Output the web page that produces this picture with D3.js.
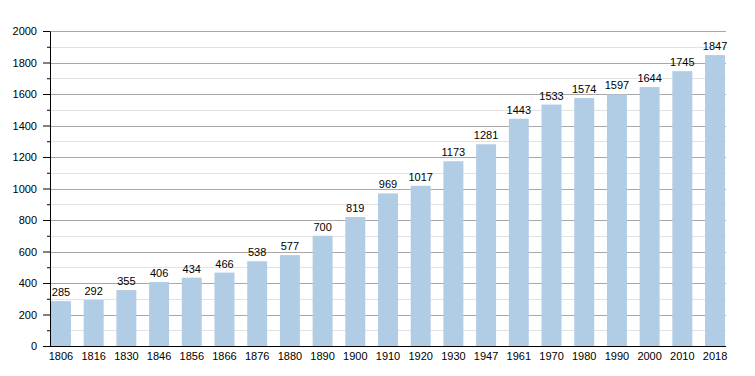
<!DOCTYPE html>
<html>
<head>
<meta charset="utf-8">
<style>
  body { margin: 0; background: #fff; }
  text { font-family: "Liberation Sans", Arial, sans-serif; font-size: 11px; fill: #000; }
</style>
<script src="https://cdn.jsdelivr.net/npm/d3@7"></script>
</head>
<body>
<script>
// data
var years = ["1806","1816","1830","1846","1856","1866","1876","1880","1890","1900","1910","1920","1930","1947","1961","1970","1980","1990","2000","2010","2018"];
var population = [285,292,355,406,434,466,538,577,700,819,969,1017,1173,1281,1443,1533,1574,1597,1644,1745,1847];
var yTicks = [0,200,400,600,800,1000,1200,1400,1600,1800,2000];
var yMinor = [100,300,500,700,900,1100,1300,1500,1700,1900];

var W = 755, H = 376;
// plot box (window.top is reserved, so use prefixed names)
var pLeft = 50, pRight = 726, pTop = 31, pBottom = 346;

var svg = d3.select("body").append("svg")
  .attr("width", W).attr("height", H);

var x = d3.scaleBand().domain(years).range([pLeft + 1, pRight - 1])
  .paddingInner(0.39).paddingOuter(0);
var y = d3.scaleLinear().domain([0, 2000]).range([pBottom, pTop]);

// minor grid
svg.append("g").selectAll("line").data(yMinor).enter().append("line")
  .attr("x1", pLeft).attr("x2", pRight)
  .attr("y1", d => Math.round(y(d)) + 0.5).attr("y2", d => Math.round(y(d)) + 0.5)
  .attr("stroke", "#e2e2e2");

// major grid
svg.append("g").selectAll("line").data(yTicks.slice(1)).enter().append("line")
  .attr("x1", pLeft).attr("x2", pRight)
  .attr("y1", d => Math.round(y(d)) + 0.5).attr("y2", d => Math.round(y(d)) + 0.5)
  .attr("stroke", "#a8a8a8");

// bars
svg.append("g").selectAll("rect").data(population).enter().append("rect")
  .attr("x", (d, i) => x(years[i]))
  .attr("width", x.bandwidth())
  .attr("y", d => y(d))
  .attr("height", d => pBottom - y(d))
  .attr("fill", "#b1cce5");

// value labels
svg.append("g").selectAll("text").data(population).enter().append("text")
  .attr("x", (d, i) => x(years[i]) + x.bandwidth() / 2)
  .attr("y", d => y(d) - 5)
  .attr("text-anchor", "middle")
  .text(d => d);

// y axis
var yAxis = svg.append("g").attr("transform", "translate(" + pLeft + ",0)");
yAxis.append("g").call(d3.axisLeft(y).tickValues(yMinor).tickSize(3).tickFormat(""))
  .call(g => g.select(".domain").remove());
yAxis.append("g").call(d3.axisLeft(y).tickValues(yTicks).tickSize(7).tickPadding(6)
    .tickSizeOuter(0).tickFormat(d3.format("d")))
  .call(g => g.selectAll("text").style("font-size", "11px").attr("font-family", null));
yAxis.selectAll("line").attr("stroke", "#000");
yAxis.selectAll(".domain").attr("stroke", "#000");

// x axis
var xAxis = svg.append("g").attr("transform", "translate(0," + pBottom + ")");
xAxis.call(d3.axisBottom(x).tickSize(0).tickPadding(6).tickSizeOuter(0))
  .call(g => g.selectAll("text").style("font-size", "11px").attr("font-family", null));
xAxis.select(".domain").attr("d", "M" + pLeft + ",0.5H" + pRight).attr("stroke", "#000");
</script>
</body>
</html>
